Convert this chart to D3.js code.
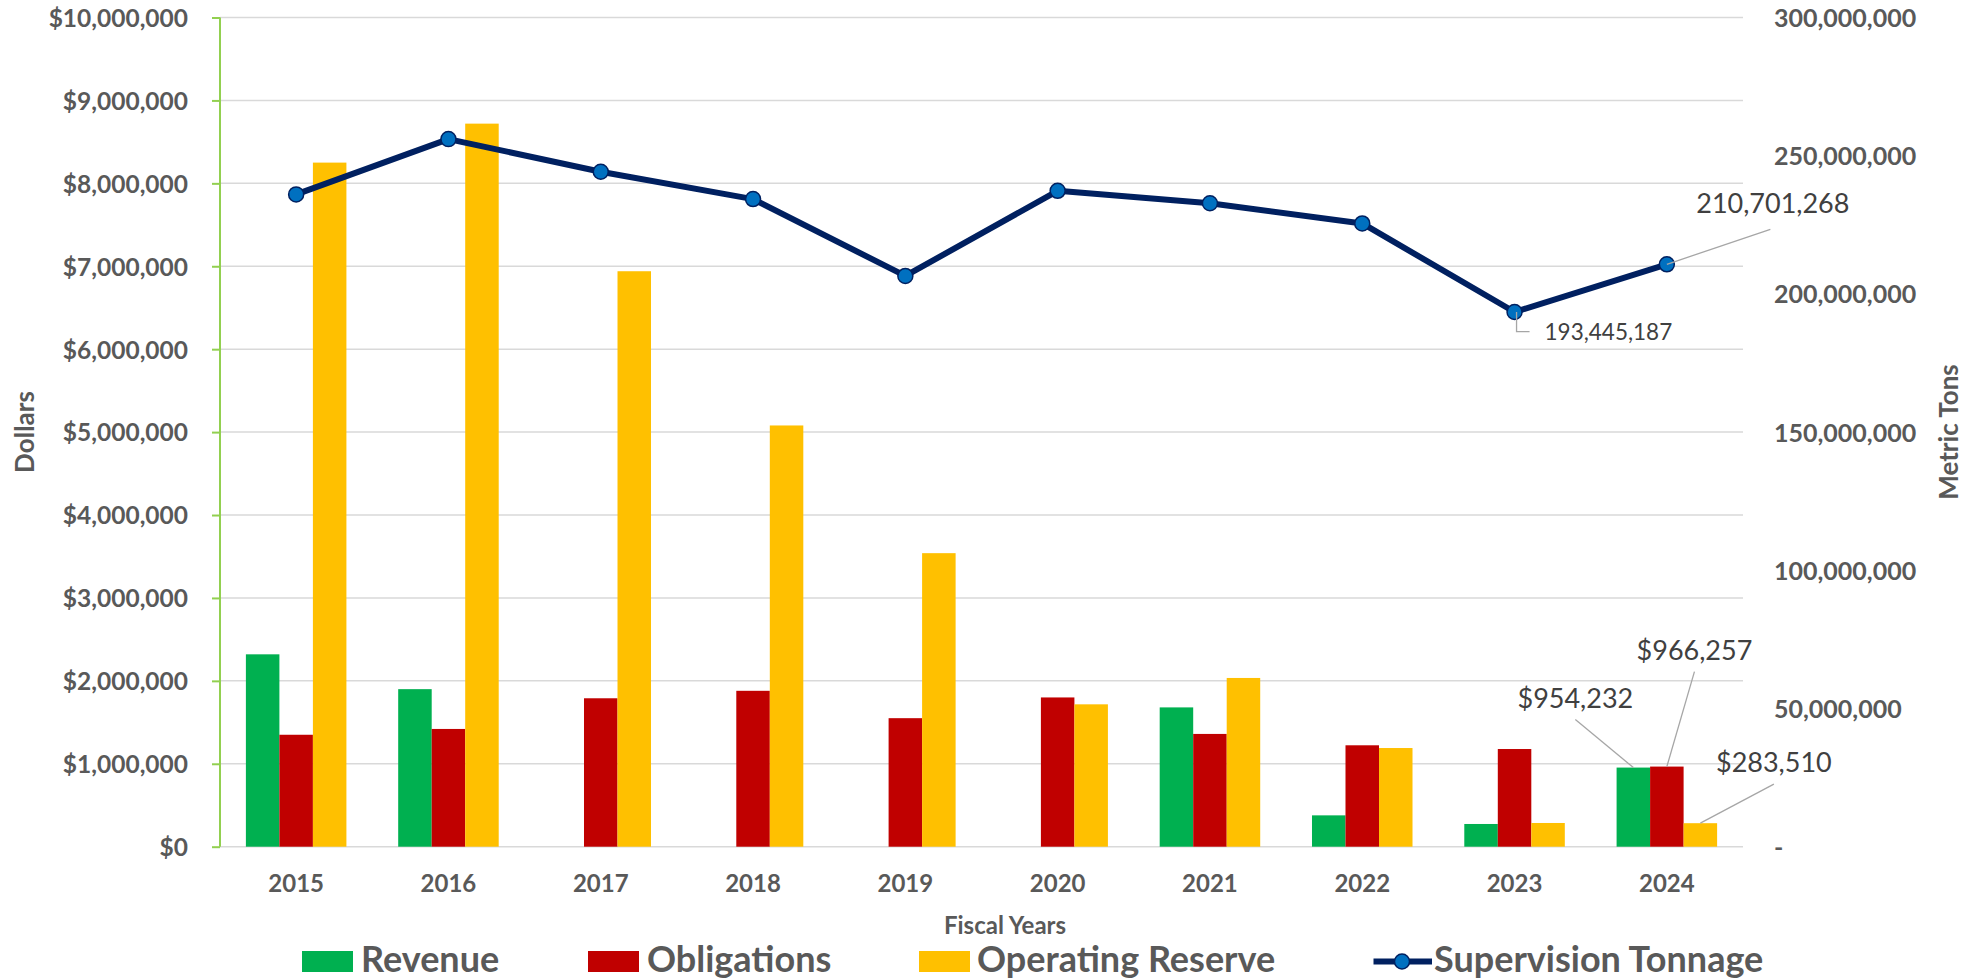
<!DOCTYPE html>
<html>
<head>
<meta charset="utf-8">
<script src="https://cdn.jsdelivr.net/npm/d3@7"></script>
<style>
  html, body { margin: 0; padding: 0; background: #ffffff; }
  svg { display: block; font-family: Lato, "Open Sans", sans-serif; }
</style>
</head>
<body>
<svg id="chart" width="1967" height="980"></svg>
<script>
// Fiscal years and the four series plotted against them
const years = ["2015", "2016", "2017", "2018", "2019", "2020", "2021", "2022", "2023", "2024"];
const revenue = [2320000, 1900000, 0, 0, 0, 0, 1680000, 378000, 274000, 954232];
const obligations = [1350000, 1420000, 1790000, 1880000, 1550000, 1800000, 1360000, 1223000, 1178000, 966257];
const operatingReserve = [8250000, 8720000, 6940000, 5080000, 3540000, 1717000, 2035000, 1190000, 286000, 283510];
const supervisionTonnage = [236000000, 256000000, 244200000, 234300000, 206500000, 237300000, 232800000, 225500000, 193445187, 210701268];

// Axis ticks
const dollarTicks = [0, 1e6, 2e6, 3e6, 4e6, 5e6, 6e6, 7e6, 8e6, 9e6, 10e6];
const tonTicks = [0, 50e6, 100e6, 150e6, 200e6, 250e6, 300e6];

const seriesNames = ["Revenue", "Obligations", "Operating Reserve"];
const seriesColors = ["#00B050", "#C00000", "#FFC000"];
const seriesValues = [revenue, obligations, operatingReserve];

const svg = d3.select("#chart");
const plot = { left: 220, right: 1743, top: 17.5, bottom: 846.7 };
const textGray = "#595959";
const labelGray = "#404040";

const x = d3.scaleBand().domain(years).range([plot.left, plot.right]).paddingInner(0.34).paddingOuter(0.17);
const xs = d3.scaleBand().domain(seriesNames).range([0, x.bandwidth()]);
const y = d3.scaleLinear().domain([0, 10e6]).range([plot.bottom, plot.top]);
const yR = d3.scaleLinear().domain([0, 300e6]).range([plot.bottom, plot.top]);

const fmt = d3.format(",");

// Horizontal gridlines
svg.append("g").selectAll("line").data(dollarTicks).join("line")
  .attr("x1", plot.left).attr("x2", plot.right)
  .attr("y1", d => y(d)).attr("y2", d => y(d))
  .attr("stroke", "#D9D9D9").attr("stroke-width", 1.5);

// Left axis (dollars)
const leftAxis = svg.append("g")
  .attr("transform", `translate(${plot.left},0)`)
  .call(d3.axisLeft(y).tickValues(dollarTicks).tickSize(8).tickPadding(24)
    .tickFormat(d => "$" + fmt(d)));
leftAxis.select(".domain").attr("stroke", "#92D050").attr("stroke-width", 2).attr("d", `M0,${plot.top}V${plot.bottom}`);
leftAxis.selectAll(".tick line").attr("stroke", "#92D050").attr("stroke-width", 2);
leftAxis.selectAll(".tick text")
  .attr("fill", textGray).attr("font-size", 24.5).attr("font-weight", 700)
  .attr("font-family", "Lato").attr("dy", "0.36em");

// Right axis (metric tons)
const rightAxis = svg.append("g")
  .attr("transform", `translate(${plot.right},0)`)
  .call(d3.axisRight(yR).tickValues(tonTicks).tickSize(0).tickPadding(31)
    .tickFormat(d => d === 0 ? "-" : fmt(d)));
rightAxis.select(".domain").remove();
rightAxis.selectAll(".tick text")
  .attr("fill", textGray).attr("font-size", 25).attr("font-weight", 700)
  .attr("font-family", "Lato").attr("dy", "0.36em");

// Bars
const groups = svg.append("g").selectAll("g").data(years).join("g")
  .attr("transform", d => `translate(${x(d)},0)`);
groups.selectAll("rect")
  .data((d, i) => seriesNames.map((s, k) => ({ s, k, v: seriesValues[k][i] })))
  .join("rect")
  .attr("x", d => xs(d.s))
  .attr("width", xs.bandwidth())
  .attr("y", d => y(d.v))
  .attr("height", d => y(0) - y(d.v))
  .attr("fill", d => seriesColors[d.k]);

// Supervision tonnage line
const cx = d => x(d) + x.bandwidth() / 2;
const linePts = years.map((yr, i) => [cx(yr), yR(supervisionTonnage[i])]);
svg.append("path")
  .attr("d", d3.line()(linePts))
  .attr("fill", "none").attr("stroke", "#002060").attr("stroke-width", 6)
  .attr("stroke-linejoin", "round");
svg.append("g").selectAll("circle").data(linePts).join("circle")
  .attr("cx", d => d[0]).attr("cy", d => d[1]).attr("r", 7.5)
  .attr("fill", "#0070C0").attr("stroke", "#002060").attr("stroke-width", 1.5);

// X axis labels
svg.append("g").selectAll("text").data(years).join("text")
  .attr("x", d => cx(d)).attr("y", 891.5)
  .attr("text-anchor", "middle").attr("fill", textGray)
  .attr("font-size", 24).attr("font-weight", 700)
  .text(d => d);

// Axis titles
svg.append("text").attr("x", 1005).attr("y", 934)
  .attr("text-anchor", "middle").attr("fill", textGray)
  .attr("font-size", 24).attr("font-weight", 700).text("Fiscal Years");
svg.append("text").attr("transform", `translate(23.5,432) rotate(-90)`)
  .attr("text-anchor", "middle").attr("dominant-baseline", "central")
  .attr("fill", textGray).attr("font-size", 26).attr("font-weight", 700).text("Dollars");
svg.append("text").attr("transform", `translate(1948,432) rotate(-90)`)
  .attr("text-anchor", "middle").attr("dominant-baseline", "central")
  .attr("fill", textGray).attr("font-size", 26).attr("font-weight", 700).text("Metric Tons");

// Callout labels for the latest years
const last = years.length - 1;
const callouts = svg.append("g");
function leader(points) {
  callouts.append("path").attr("d", d3.line()(points))
    .attr("fill", "none").attr("stroke", "#A6A6A6").attr("stroke-width", 1.3);
}
function label(xp, yp, txt, size, anchor) {
  callouts.append("text").attr("x", xp).attr("y", yp)
    .attr("text-anchor", anchor).attr("fill", labelGray)
    .attr("font-size", size).text(txt);
}
// bar callouts: leader from the top centre of the bar, text centred over the leader end
const barCallouts = [
  { k: 0, dx: -58, dy: -48 },
  { k: 1, dx: 27.6, dy: -95 },
  { k: 2, dx: 73.5, dy: -39 }
];
barCallouts.forEach(c => {
  const v = seriesValues[c.k][last];
  const bx = x(years[last]) + xs(seriesNames[c.k]) + xs.bandwidth() / 2;
  const by = y(v);
  leader([[bx, by], [bx + c.dx, by + c.dy]]);
  label(bx + c.dx, by + c.dy - 12, "$" + fmt(v), 27, "middle");
});
// tonnage 2024
{
  const [px, py] = linePts[last];
  leader([[px, py], [px + 103.5, py - 35]]);
  label(px + 106, py - 51, fmt(supervisionTonnage[last]), 27, "middle");
}
// tonnage 2023 with an elbow leader
{
  const [px, py] = linePts[last - 1];
  leader([[px + 2, py], [px + 2, py + 19.7], [px + 15, py + 19.7]]);
  callouts.append("text").attr("x", px + 30).attr("y", py + 19.7)
    .attr("dominant-baseline", "central").attr("fill", labelGray)
    .attr("font-size", 22.5).text(fmt(supervisionTonnage[last - 1]));
}

// Legend
const legend = svg.append("g");
const legendItems = [
  { name: "Revenue", color: seriesColors[0], sx: 302, tx: 361 },
  { name: "Obligations", color: seriesColors[1], sx: 588, tx: 647 },
  { name: "Operating Reserve", color: seriesColors[2], sx: 919, tx: 977 }
];
legendItems.forEach(it => {
  legend.append("rect").attr("x", it.sx).attr("y", 951).attr("width", 51).attr("height", 21)
    .attr("fill", it.color);
  legend.append("text").attr("x", it.tx).attr("y", 971.5)
    .attr("fill", textGray).attr("font-size", 36).attr("font-weight", 700).text(it.name);
});
legend.append("line").attr("x1", 1373.5).attr("x2", 1432).attr("y1", 961.5).attr("y2", 961.5)
  .attr("stroke", "#002060").attr("stroke-width", 6);
legend.append("circle").attr("cx", 1402).attr("cy", 961.5).attr("r", 7.5)
  .attr("fill", "#0070C0").attr("stroke", "#002060").attr("stroke-width", 1.5);
legend.append("text").attr("x", 1434).attr("y", 971.5)
  .attr("fill", textGray).attr("font-size", 36).attr("font-weight", 700).text("Supervision Tonnage");
</script>
</body>
</html>
